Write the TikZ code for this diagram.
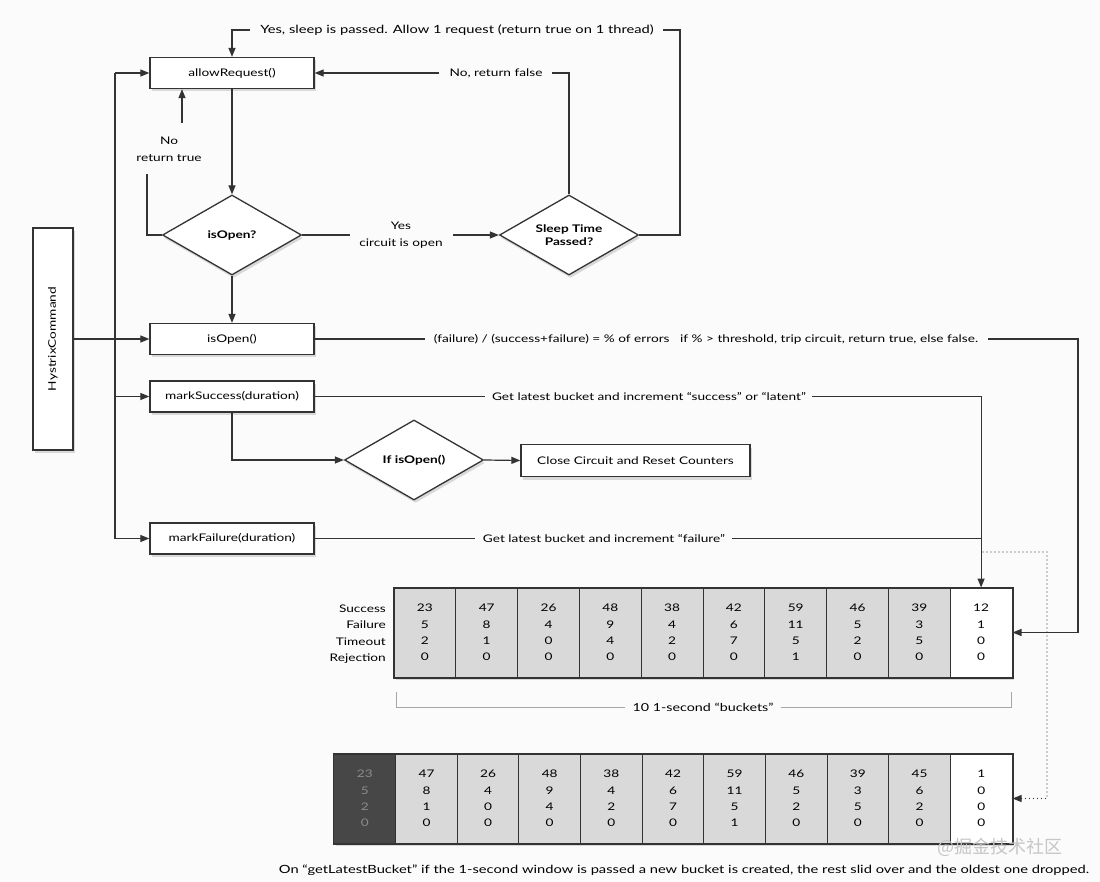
\documentclass[tikz,border=0pt]{standalone}
\usepackage{fontspec}
\setmainfont{Lato}[FakeStretch=1.3]
\newfontfamily\cjkfont{Noto Sans CJK SC}
\usetikzlibrary{arrows.meta,shapes.geometric,shadows}
\definecolor{ln}{HTML}{333333}
\definecolor{cellg}{HTML}{D9D9D9}
\definecolor{celld}{HTML}{474747}
\definecolor{bg}{HTML}{FBFBFB}
\begin{document}
\begin{tikzpicture}[x=1pt,y=-1pt,
  shd/.style={drop shadow={opacity=0.28,shadow xshift=1.5pt,shadow yshift=-3pt}},
  box/.style={draw=ln,line width=1.3pt,fill=white,minimum width=164pt,minimum height=31pt,inner sep=0pt,font=\fontsize{10.5}{12}\selectfont,shd},
  dia/.style={diamond,draw=ln,line width=1.3pt,fill=white,minimum width=139pt,minimum height=80pt,aspect=1.74,inner sep=0pt,align=center,font=\fontsize{10.5}{13}\selectfont\bfseries,shd},
  conn/.style={draw=ln,line width=1.2pt},
  arr/.style={conn,-{Triangle[length=9pt,width=7pt]}},
  lbl/.style={font=\fontsize{10.5}{17}\selectfont,align=center,inner sep=0pt},
  cell/.style={draw=ln,line width=1pt,fill=cellg,minimum width=61.8pt,minimum height=89pt,inner sep=0pt,align=center,font=\fontsize{10.5}{16.3}\selectfont},
  cell2/.style={cell,minimum width=61.64pt},
  frame/.style={draw=ln,line width=1.5pt,fill=cellg,inner sep=0pt,shd}]
\useasboundingbox[fill=bg] (0,0) rectangle (1100,882);

% main boxes
\node[draw=ln,line width=1.3pt,fill=white,minimum width=222pt,minimum height=40pt,inner sep=0pt,rotate=90,font=\fontsize{10.5}{12}\selectfont,shd] (hc) at (53,339) {HystrixCommand};
\node[box] (allow) at (232,73) {allowRequest()};
\node[dia] (d1) at (232,235) {isOpen?};
\node[dia] (d2) at (569,235) {Sleep Time\\Passed?};
\node[box] (iso) at (232,339) {isOpen()};
\node[box] (ms) at (232,396.5) {markSuccess(duration)};
\node[box] (mf) at (232,538.5) {markFailure(duration)};
\node[dia] (d3) at (414,460) {If isOpen()};
\node[box,minimum width=229pt,minimum height=32pt] (cc) at (635.5,460.5) {Close Circuit and Reset Counters};

% trunk
\coordinate (t1) at (115,73);
\coordinate (t2) at (115,396.5);
\coordinate (t3) at (115,538.5);
\draw[conn] (t1) -- (t3);
\draw[arr] (t1) -- (allow.west);
\draw[arr] (t2) -- (ms.west);
\draw[arr] (t3) -- (mf.west);
\draw[arr] (hc.south) -- (iso.west);

% allowRequest -> isOpen?
\draw[arr] (allow.south) -- (d1.north);
\draw[arr] (d1.south) -- (iso.north);

% No, return true
\coordinate (n1) at (147,174);
\coordinate (n2) at (182,123);
\draw[conn] (d1.west) -| (n1);
\node[lbl] (ntxt) at (169,149) {No\\return true};
\draw[arr] (n2) -- (n2 |- allow.south);

% Yes circuit is open
\coordinate (y1) at (350,235);
\coordinate (y2) at (453,235);
\draw[conn] (d1.east) -- (y1);
\node[lbl] (ytxt) at (401,235) {Yes\\circuit is open};
\draw[arr] (y2) -- (d2.west);

% No, return false
\node[lbl] (nf) at (496,73) {No, return false};
\coordinate (f1) at (552,73);
\coordinate (f2) at (439,73);
\draw[conn] (d2.north) |- (f1);
\draw[arr] (f2) -- (allow.east);

% Yes sleep passed
\node[lbl,font=\fontsize{11.3}{13}\selectfont] (ys) at (457,30) {Yes, sleep is passed. Allow 1 request (return true on 1 thread)};
\coordinate (s1) at (680,30);
\coordinate (s2) at (663,30);
\coordinate (s3) at (250,30);
\draw[conn] (d2.east) -| (s1) -- (s2);
\draw[arr] (s3) -| (allow.north);

% markSuccess -> If isOpen() -> Close
\draw[arr] (ms.south) |- (d3.west);
\draw[arr] (d3.east) -- (cc.west);

% bucket row 1
\node[frame,minimum width=618pt,minimum height=89pt] (row1) at (703,632.5) {};
\node[cell] (a1) at (424.9,632.5) {23\\5\\2\\0};
\node[cell] (a2) at (486.7,632.5) {47\\8\\1\\0};
\node[cell] (a3) at (548.5,632.5) {26\\4\\0\\0};
\node[cell] (a4) at (610.3,632.5) {48\\9\\4\\0};
\node[cell] (a5) at (672.1,632.5) {38\\4\\2\\0};
\node[cell] (a6) at (733.9,632.5) {42\\6\\7\\0};
\node[cell] (a7) at (795.7,632.5) {59\\11\\5\\1};
\node[cell] (a8) at (857.5,632.5) {46\\5\\2\\0};
\node[cell] (a9) at (919.3,632.5) {39\\3\\5\\0};
\node[cell,fill=white] (a10) at (981.1,632.5) {12\\1\\0\\0};
\draw[draw=ln,line width=1.5pt] (row1.north west) rectangle (row1.south east);
\node[font=\fontsize{10.5}{16.3}\selectfont,align=right,anchor=east,inner sep=0pt] (rl) at (386,634) {Success\\Failure\\Timeout\\Rejection};

% bracket
\node[lbl,font=\fontsize{11}{13}\selectfont] (bt) at (703,707) {10 1-second “buckets”};
\coordinate (bl) at (396,692);
\coordinate (br) at (1011,692);
\draw[draw=gray!70,line width=0.8pt] (bl) |- ([xshift=-7pt]bt.west);
\draw[draw=gray!70,line width=0.8pt] ([xshift=7pt]bt.east) -| (br);

% isOpen() calculation line
\node[lbl] (calc) at (706,339) {(failure) / (success+failure) = \% of errors \ \ if \% > threshold, trip circuit, return true, else false.};
\coordinate (k1) at (425,339);
\coordinate (k2) at (988,339);
\coordinate (k3) at (1078,339);
\draw[conn] (iso.east) -- (k1);
\draw[arr] (k2) -- (k3) |- (a10.east);

% markSuccess line
\node[lbl] (gs) at (649,396.5) {Get latest bucket and increment “success” or “latent”};
\coordinate (g1) at (485,396.5);
\coordinate (g2) at (812,396.5);
\draw[conn] (ms.east) -- (g1);
\draw[arr] (g2) -| (a10.north);

% markFailure line
\node[lbl] (gf) at (604,538.5) {Get latest bucket and increment “failure”};
\coordinate (h1) at (475,538.5);
\coordinate (h2) at (732,538.5);
\draw[conn] (mf.east) -- (h1);
\draw[conn] (h2) -- (h2 -| a10.north);

% bucket row 2
\node[frame,minimum width=678pt,minimum height=89pt] (row2) at (673,798.5) {};
\node[cell2,fill=celld,text=gray!90] (b1) at (364.8,798.5) {23\\5\\2\\0};
\node[cell2] (b2) at (426.5,798.5) {47\\8\\1\\0};
\node[cell2] (b3) at (488.1,798.5) {26\\4\\0\\0};
\node[cell2] (b4) at (549.7,798.5) {48\\9\\4\\0};
\node[cell2] (b5) at (611.4,798.5) {38\\4\\2\\0};
\node[cell2] (b6) at (673.0,798.5) {42\\6\\7\\0};
\node[cell2] (b7) at (734.6,798.5) {59\\11\\5\\1};
\node[cell2] (b8) at (796.3,798.5) {46\\5\\2\\0};
\node[cell2] (b9) at (857.9,798.5) {39\\3\\5\\0};
\node[cell2] (b10) at (919.6,798.5) {45\\6\\2\\0};
\node[cell2,fill=white] (b11) at (981.2,798.5) {1\\0\\0\\0};
\draw[draw=ln,line width=1.5pt] (row2.north west) rectangle (row2.south east);

% dotted
\coordinate (p1) at (983,552);
\coordinate (p2) at (1047,552);
\draw[draw=ln,line width=1.1pt,line cap=round,dash pattern=on 0pt off 4pt,-{Triangle[length=9pt,width=7pt]}] (p1) -- (p2) |- (b11.east);

% caption
\node[font=\fontsize{11.3}{14}\selectfont,inner sep=0pt] (cap) at (684,870) {On “getLatestBucket” if the 1-second window is passed a new bucket is created, the rest slid over and the oldest one dropped.};

% watermark
\node[font=\cjkfont\fontsize{18}{20}\selectfont,text=gray!45,inner sep=0pt] (wm) at (1000,847) {@掘金技术社区};
\end{tikzpicture}
\end{document}
